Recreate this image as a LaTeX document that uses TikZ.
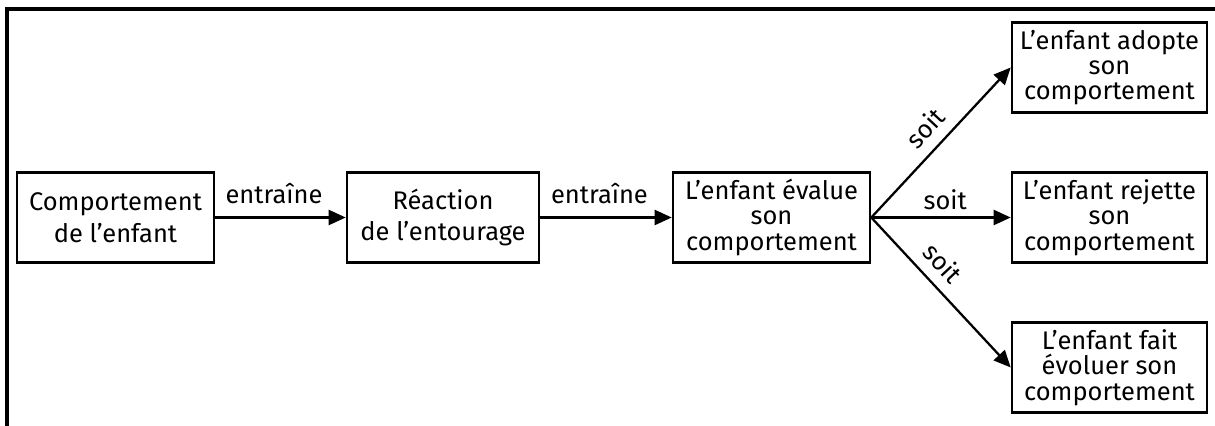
\documentclass[tikz,border=0pt]{standalone}
\usepackage{fontspec}
\setmainfont{Fira Sans}
\usetikzlibrary{arrows.meta}

\tikzset{
  box/.style={draw, line width=1.5pt, align=center, inner sep=0pt,
    minimum width=3.9cm, minimum height=1.8cm,
    font=\fontsize{14.5}{18.2}\selectfont},
  tribox/.style={box, font=\fontsize{14.5}{14.4}\selectfont},
  arr/.style={line width=1.3pt, -{Triangle[length=0.34cm,width=0.3cm]}},
  lbl/.style={font=\fontsize{14.5}{18}\selectfont, inner sep=2pt}
}

\begin{document}
\begin{tikzpicture}[x=0.02cm,y=-0.02cm]
\useasboundingbox (0,0) rectangle (1215,426);
\draw[line width=2pt] (1215,9) -- (7,9) -- (7,426);

\node[box, minimum width=3.94cm] (comp) at (115.5,217.5) {Comportement\\de l’enfant};
\node[box, minimum width=3.84cm] (reac) at (443,217.5) {Réaction\\de l’entourage};
\node[tribox, minimum width=3.94cm] (eval) at (771.5,217.5) {L’enfant évalue\\son\\comportement};
\node[tribox, minimum width=3.9cm] (adopt) at (1109.5,67.5) {L’enfant adopte\\son\\comportement};
\node[tribox, minimum width=3.9cm] (rejet) at (1109.5,217.5) {L’enfant rejette\\son\\comportement};
\node[tribox, minimum width=3.9cm] (evol) at (1109.5,367.5) {L’enfant fait\\évoluer son\\comportement};

\draw[arr] (comp) -- node[lbl, above, pos=0.45, yshift=5pt] {entraîne} (reac);
\draw[arr] (reac) -- node[lbl, above, pos=0.45, yshift=5pt] {entraîne} (eval);
\draw[arr] (eval.east) -- node[lbl, above, sloped, pos=0.5, inner sep=6pt] {soit} (adopt.west);
\draw[arr] (eval.east) -- node[lbl, above, pos=0.53, inner sep=4pt] {soit} (rejet.west);
\draw[arr] (eval.east) -- node[lbl, above, sloped, pos=0.4, inner sep=6pt] {soit} (evol.west);
\end{tikzpicture}
\end{document}
